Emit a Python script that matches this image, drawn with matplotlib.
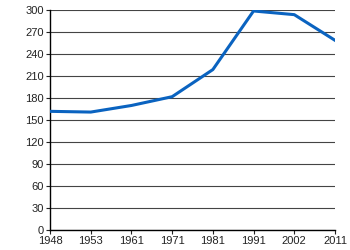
import matplotlib.pyplot as plt
import numpy as np

years = ['1948', '1953', '1961', '1971', '1981', '1991', '2002', '2011']
values = [162, 161, 170, 182, 219, 299, 294, 259]
yticks = [0, 30, 60, 90, 120, 150, 180, 210, 240, 270, 300]

plt.rcParams['font.family'] = ['Liberation Sans', 'DejaVu Sans']

fig = plt.figure(figsize=(3.5, 2.5), dpi=100)
ax = fig.add_axes([0.143, 0.08, 0.814, 0.879])

x = np.arange(len(years))
ax.plot(x, values, color='#0a63c0', linewidth=2.2, solid_joinstyle='round', zorder=3)

ax.set_xlim(0, len(years) - 1)
ax.set_ylim(0, 300)
ax.set_xticks(x)
ax.set_xticklabels(years)
ax.set_yticks(yticks)
ax.yaxis.grid(True, color='#444444', linewidth=0.8)
ax.set_axisbelow(True)

for side in ['top', 'right']:
    ax.spines[side].set_visible(False)
for side in ['left', 'bottom']:
    ax.spines[side].set_color('black')
    ax.spines[side].set_linewidth(1.0)

ax.tick_params(labelsize=8, length=3, width=0.8, pad=1.5, colors='#222222')

fig.savefig('out.png', dpi=100)
